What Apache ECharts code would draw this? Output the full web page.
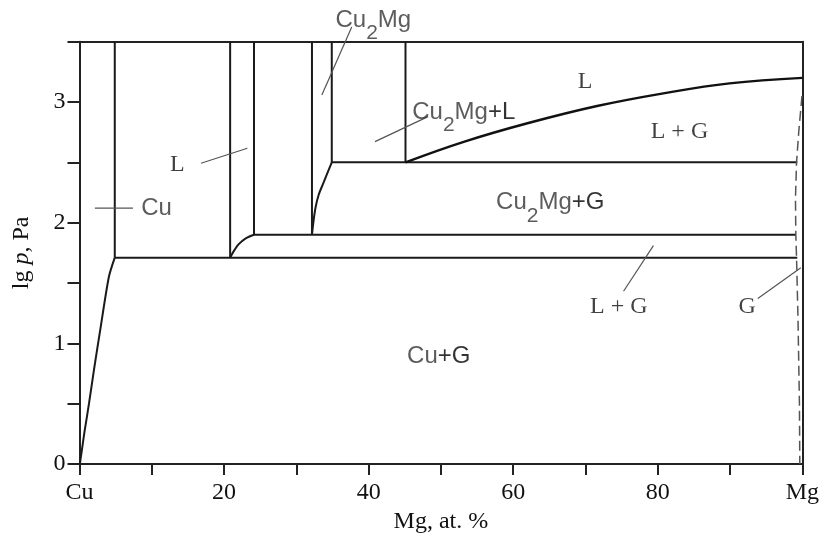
<!DOCTYPE html>
<html><head><meta charset="utf-8">
<script src="https://cdn.jsdelivr.net/npm/echarts@6/dist/echarts.min.js"></script>
<style>html,body{margin:0;padding:0;background:#fff}#c{width:822px;height:539px}</style>
</head><body><div id="c"></div>
<script>
// ---- tick labels ----
const xTickValues = [0, 10, 20, 30, 40, 50, 60, 70, 80, 90, 100];
const xTickLabels = ['Cu', '', '20', '', '40', '', '60', '', '80', '', 'Mg'];
const yTickValues = [0, 0.5, 1, 1.5, 2, 2.5, 3, 3.5];
const yTickLabels = ['0', '', '1', '', '2', '', '3', ''];

// ---- phase boundaries (x = Mg at.%, y = lg p) ----
const cuVertical = [[4.88, 3.5], [4.88, 1.71]];
const cuCurve = [[4.88, 1.71], [4.06, 1.55], [2.89, 1.12], [2.0, 0.78], [1.31, 0.50], [0.7, 0.27], [0.34, 0.12], [0.05, 0]];
const eutecticLow = [[4.88, 1.71], [99.3, 1.71]];
const line21 = [[20.84, 3.5], [20.84, 1.71]];
const curve21 = [[20.84, 1.71], [21.3, 1.76], [22.0, 1.82], [23.0, 1.87], [24.14, 1.90]];
const line24 = [[24.14, 3.5], [24.14, 1.90], [99.1, 1.90]];
const line32 = [[32.16, 3.5], [32.16, 1.90]];
const curve32 = [[32.16, 1.90], [32.39, 2.02], [32.67, 2.13], [33.08, 2.23], [33.75, 2.33], [34.9, 2.50]];
const line35 = [[34.9, 3.5], [34.9, 2.50], [99.3, 2.50]];
const line45 = [[45.1, 3.5], [45.1, 2.50]];
const liquidus = [[45.1, 2.50], [53.26, 2.672], [61.97, 2.824], [71.6, 2.967], [80.77, 3.072], [89.93, 3.155], [100, 3.20]];
const gasBoundary = [[99.95, 3.05], [99.5, 2.75], [99.2, 2.5], [99.05, 2.2], [99.1, 1.9], [99.2, 1.71], [99.4, 1.2], [99.6, 0.5], [99.65, 0]];

// ---- region labels ----
const labelTexts = ['{n|Cu}{s|2}{n|Mg}', '{n|Cu}{s|2}{n|Mg}{p|+L}', '{n|Cu}{s|2}{n|Mg}{p|+G}', '{n|Cu}', '{n|Cu}{p|+G}',
  '{t|L}', '{t|L}', '{t|L + G}', '{t|L + G}', '{t|G}'];
const labelX = [40.65, 53.16, 65.13, 10.66, 49.7, 13.55, 69.94, 83.0, 74.6, 92.36];
const labelY = [3.68, 2.917, 2.165, 2.12, 0.893, 2.48, 3.17, 2.75, 1.306, 1.306];

// ---- leader lines ----
const leaders = [
  [[37.66, 3.622], [33.53, 3.058]],
  [[40.88, 2.672], [48.21, 2.879]],
  [[16.81, 2.493], [23.22, 2.617]],
  [[2.13, 2.121], [7.40, 2.121]],
  [[75.27, 1.432], [79.4, 1.81]],
  [[93.84, 1.372], [99.79, 1.626]]
];

const SERIF = '"Liberation Serif","Times New Roman",serif';
const SANS = '"Liberation Sans",Arial,sans-serif';

const chart = echarts.init(document.getElementById('c'), null, {renderer: 'canvas'});

function lineSeries(data, extra) {
  return Object.assign({
    type: 'line', data: data, showSymbol: false, symbol: 'none', silent: true,
    animation: false, clip: false, z: 3,
    lineStyle: {color: '#1a1a1a', width: 2}
  }, extra || {});
}

const series = [
  lineSeries(cuVertical), lineSeries(cuCurve, {smooth: 0.25}), lineSeries(eutecticLow),
  lineSeries(line21), lineSeries(curve21, {smooth: 0.3}), lineSeries(line24),
  lineSeries(line32), lineSeries(curve32, {smooth: 0.3}), lineSeries(line35), lineSeries(line45),
  lineSeries(liquidus, {smooth: 0.4, lineStyle: {color: '#111', width: 2.4}}),
  lineSeries(gasBoundary, {lineStyle: {color: '#555', width: 1.5, type: [10, 5]}})
];
leaders.forEach(l => series.push(lineSeries(l, {lineStyle: {color: '#555', width: 1.2}})));

series.push({
  type: 'scatter', silent: true, animation: false, clip: false, symbolSize: 0, z: 5,
  data: labelTexts.map((t, i) => ({value: [labelX[i], labelY[i]], label: {formatter: t}})),
  label: {
    show: true, position: 'inside', align: 'center', verticalAlign: 'middle',
    rich: {
      n: {fontFamily: SANS, fontSize: 24, color: '#333'},
      s: {fontFamily: SANS, fontSize: 21, color: '#333', padding: [27, 0, 0, 0]},
      p: {fontFamily: SANS, fontSize: 24, color: '#000'},
      t: {fontFamily: SERIF, fontSize: 24, color: '#111'}
    }
  }
});

chart.setOption({
  animation: false,
  backgroundColor: '#fff',
  grid: {left: 79.5, right: 15.3, top: 41.7, bottom: 74, containLabel: false},
  xAxis: [{
    type: 'value', min: 0, max: 100, interval: 10,
    name: 'Mg, at. %', nameLocation: 'middle', nameGap: 46,
    nameTextStyle: {fontFamily: SERIF, fontSize: 24, color: '#111'},
    axisLine: {show: true, lineStyle: {color: '#222', width: 2}},
    axisTick: {show: true, length: 11, lineStyle: {color: '#222', width: 2}},
    axisLabel: {
      margin: 17, fontFamily: SERIF, fontSize: 24, color: '#111',
      formatter: v => { const i = xTickValues.indexOf(Math.round(v)); return i >= 0 ? xTickLabels[i] : ''; }
    },
    splitLine: {show: false}
  }, {
    type: 'value', min: 0, max: 100, position: 'top',
    axisLine: {show: true, onZero: false, lineStyle: {color: '#222', width: 2}},
    axisTick: {show: false}, axisLabel: {show: false}, splitLine: {show: false}
  }],
  yAxis: [{
    type: 'value', min: 0, max: 3.5, interval: 0.5,
    name: '{a|lg }{i|p}{a|, Pa}', nameLocation: 'middle', nameGap: 46, nameRotate: 90,
    nameTextStyle: {
      rich: {
        a: {fontFamily: SERIF, fontSize: 24, color: '#111'},
        i: {fontFamily: SERIF, fontSize: 24, fontStyle: 'italic', color: '#111'}
      }
    },
    axisLine: {show: true, lineStyle: {color: '#222', width: 2}},
    axisTick: {show: true, length: 12, lineStyle: {color: '#222', width: 2}},
    axisLabel: {
      margin: 14, fontFamily: SERIF, fontSize: 24, color: '#111',
      formatter: v => { const i = yTickValues.findIndex(t => Math.abs(t - v) < 1e-6); return i >= 0 ? yTickLabels[i] : ''; }
    },
    splitLine: {show: false}
  }, {
    type: 'value', min: 0, max: 3.5, position: 'right',
    axisLine: {show: true, onZero: false, lineStyle: {color: '#222', width: 2}},
    axisTick: {show: false}, axisLabel: {show: false}, splitLine: {show: false}
  }],
  series: series
});
</script></body></html>
